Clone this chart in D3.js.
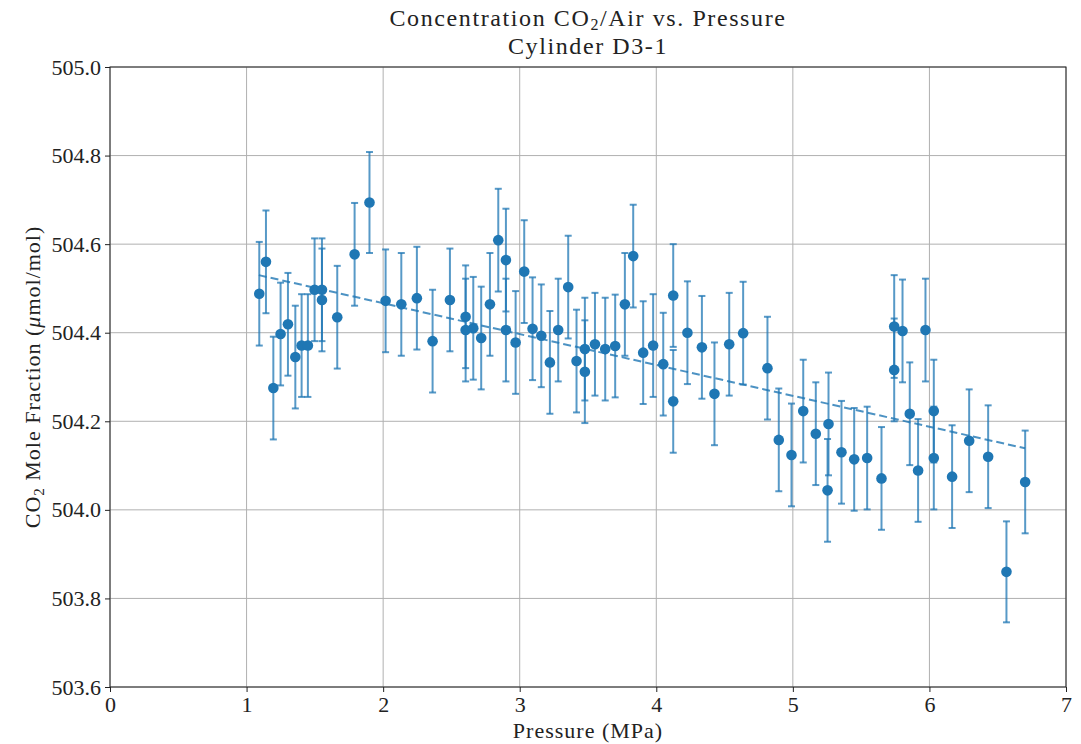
<!DOCTYPE html>
<html>
<head>
<meta charset="utf-8">
<script src="https://cdn.jsdelivr.net/npm/d3@7"></script>
<style>
  body { margin: 0; background: #fff; }
  text { font-family: "Liberation Serif", "DejaVu Serif", serif; fill: #222; }
</style>
</head>
<body>
<svg id="chart" width="1081" height="744"></svg>
<script>
// pressure (MPa) for each measurement
const pressure = [1.093, 1.142, 1.196, 1.249, 1.303, 1.357, 1.403, 1.449, 1.498, 1.552, 1.552,
  1.664, 1.791, 1.900, 2.018, 2.133, 2.247, 2.362, 2.489, 2.604, 2.604, 2.660, 2.718, 2.782,
  2.843, 2.899, 2.899, 2.970, 3.033, 3.094, 3.158, 3.221, 3.282, 3.355, 3.416, 3.477, 3.477,
  3.551, 3.626, 3.699, 3.770, 3.831, 3.904, 3.977, 4.051, 4.124, 4.124, 4.228, 4.334, 4.426,
  4.534, 4.636, 4.814, 4.897, 4.990, 5.076, 5.168, 5.261, 5.254, 5.356, 5.449, 5.544, 5.649,
  5.742, 5.742, 5.803, 5.856, 5.917, 5.971, 6.032, 6.032, 6.166, 6.291, 6.430, 6.564, 6.701];
// CO2 mole fraction (umol/mol)
const fraction = [504.488, 504.560, 504.275, 504.397, 504.419, 504.345, 504.371, 504.371, 504.497, 504.497, 504.474,
  504.435, 504.577, 504.694, 504.472, 504.464, 504.478, 504.381, 504.474, 504.436, 504.406, 504.410, 504.388, 504.464,
  504.609, 504.564, 504.406, 504.378, 504.538, 504.409, 504.393, 504.333, 504.406, 504.503, 504.336, 504.363, 504.312,
  504.374, 504.363, 504.370, 504.464, 504.573, 504.355, 504.371, 504.329, 504.484, 504.245, 504.400, 504.367, 504.262,
  504.374, 504.399, 504.320, 504.158, 504.124, 504.223, 504.172, 504.194, 504.044, 504.130, 504.114, 504.117, 504.071,
  504.414, 504.316, 504.404, 504.217, 504.089, 504.406, 504.223, 504.117, 504.075, 504.156, 504.120, 503.860, 504.063];
// uncertainty (half length of each error bar)
const uncert = [0.117, 0.116, 0.116, 0.116, 0.116, 0.116, 0.116, 0.116, 0.116, 0.116, 0.116,
  0.116, 0.116, 0.114, 0.116, 0.116, 0.116, 0.116, 0.116, 0.116, 0.116, 0.116, 0.116, 0.116,
  0.116, 0.116, 0.116, 0.116, 0.116, 0.116, 0.116, 0.116, 0.116, 0.116, 0.116, 0.116, 0.116,
  0.116, 0.116, 0.116, 0.116, 0.116, 0.116, 0.116, 0.116, 0.116, 0.116, 0.116, 0.116, 0.116,
  0.116, 0.116, 0.116, 0.116, 0.116, 0.116, 0.116, 0.116, 0.116, 0.116, 0.116, 0.116, 0.116,
  0.116, 0.116, 0.116, 0.116, 0.116, 0.116, 0.116, 0.116, 0.116, 0.116, 0.116, 0.114, 0.116];
// linear fit end points
const fitX = [1.09, 6.70];
const fitY = [504.530, 504.139];

const xTicks = [0, 1, 2, 3, 4, 5, 6, 7];
const yTicks = [503.6, 503.8, 504.0, 504.2, 504.4, 504.6, 504.8, 505.0];

const blue = "#1f77b4";
const m = {left: 110, right: 15, top: 67, bottom: 57};
const W = 1081, H = 744;

const svg = d3.select("#chart");
const x = d3.scaleLinear().domain([0, 7]).range([m.left, W - m.right]);
const y = d3.scaleLinear().domain([503.6, 505.0]).range([H - m.bottom, m.top]);

// grid
svg.append("g").selectAll("line").data(xTicks).join("line")
  .attr("x1", d => x(d)).attr("x2", d => x(d))
  .attr("y1", y(503.6)).attr("y2", y(505.0))
  .attr("stroke", "#b0b0b0").attr("stroke-width", 1);
svg.append("g").selectAll("line").data(yTicks).join("line")
  .attr("x1", x(0)).attr("x2", x(7))
  .attr("y1", d => y(d)).attr("y2", d => y(d))
  .attr("stroke", "#b0b0b0").attr("stroke-width", 1);

// axes
const xAxis = svg.append("g").attr("transform", `translate(0,${y(503.6)})`)
  .call(d3.axisBottom(x).tickValues(xTicks).tickFormat(d3.format("d")).tickSizeOuter(0).tickSize(5).tickPadding(4));
const yAxis = svg.append("g").attr("transform", `translate(${x(0)},0)`)
  .call(d3.axisLeft(y).tickValues(yTicks).tickFormat(d3.format(".1f")).tickSizeOuter(0).tickSize(5).tickPadding(4));
[xAxis, yAxis].forEach(a => {
  a.selectAll("text").style("font-size", "22px").attr("fill", "#222");
  a.selectAll("line").attr("stroke", "#222");
  a.select(".domain").remove();
});

// frame
svg.append("rect")
  .attr("x", x(0)).attr("y", y(505.0))
  .attr("width", x(7) - x(0)).attr("height", y(503.6) - y(505.0))
  .attr("fill", "none").attr("stroke", "#222").attr("stroke-width", 1);

const pts = pressure.map((p, i) => ({p, v: fraction[i], e: uncert[i]}));

// error bars
const eb = svg.append("g").attr("stroke", blue).attr("stroke-opacity", 0.75).attr("stroke-width", 2);
eb.selectAll(".v").data(pts).join("line")
  .attr("x1", d => x(d.p)).attr("x2", d => x(d.p))
  .attr("y1", d => y(d.v - d.e)).attr("y2", d => y(d.v + d.e));
eb.selectAll(".cl").data(pts).join("line")
  .attr("x1", d => x(d.p) - 3.5).attr("x2", d => x(d.p) + 3.5)
  .attr("y1", d => y(d.v - d.e)).attr("y2", d => y(d.v - d.e));
eb.selectAll(".ch").data(pts).join("line")
  .attr("x1", d => x(d.p) - 3.5).attr("x2", d => x(d.p) + 3.5)
  .attr("y1", d => y(d.v + d.e)).attr("y2", d => y(d.v + d.e));

// markers
svg.append("g").selectAll("circle").data(pts).join("circle")
  .attr("cx", d => x(d.p)).attr("cy", d => y(d.v)).attr("r", 5.3)
  .attr("fill", blue);

// fit line
svg.append("path")
  .datum(fitX.map((d, i) => [d, fitY[i]]))
  .attr("d", d3.line().x(d => x(d[0])).y(d => y(d[1])))
  .attr("fill", "none").attr("stroke", blue).attr("stroke-opacity", 0.8)
  .attr("stroke-width", 2).attr("stroke-dasharray", "8,4");

// titles
const t1 = svg.append("text").attr("x", x(3.5)).attr("y", 26).attr("text-anchor", "middle")
  .style("font-size", "24px").style("letter-spacing", "1.6px");
t1.append("tspan").text("Concentration CO");
t1.append("tspan").attr("dy", 4).style("font-size", "16px").text("2");
t1.append("tspan").attr("dy", -4).text("/Air vs.  Pressure");
svg.append("text").attr("x", x(3.5)).attr("y", 54).attr("text-anchor", "middle")
  .style("font-size", "24px").style("letter-spacing", "1.6px").text("Cylinder D3-1");

svg.append("text").attr("x", x(3.5)).attr("y", 738).attr("text-anchor", "middle")
  .style("font-size", "22px").style("letter-spacing", "1px").text("Pressure (MPa)");

const yl = svg.append("text").attr("transform", `translate(40,${(y(503.6) + y(505.0)) / 2}) rotate(-90)`)
  .attr("text-anchor", "middle").style("font-size", "22px").style("letter-spacing", "1px");
yl.append("tspan").text("CO");
yl.append("tspan").attr("dy", 4).style("font-size", "15px").text("2");
yl.append("tspan").attr("dy", -4).text(" Mole Fraction (");
yl.append("tspan").style("font-style", "italic").text("μ");
yl.append("tspan").text("mol/mol)");
</script>
</body>
</html>
